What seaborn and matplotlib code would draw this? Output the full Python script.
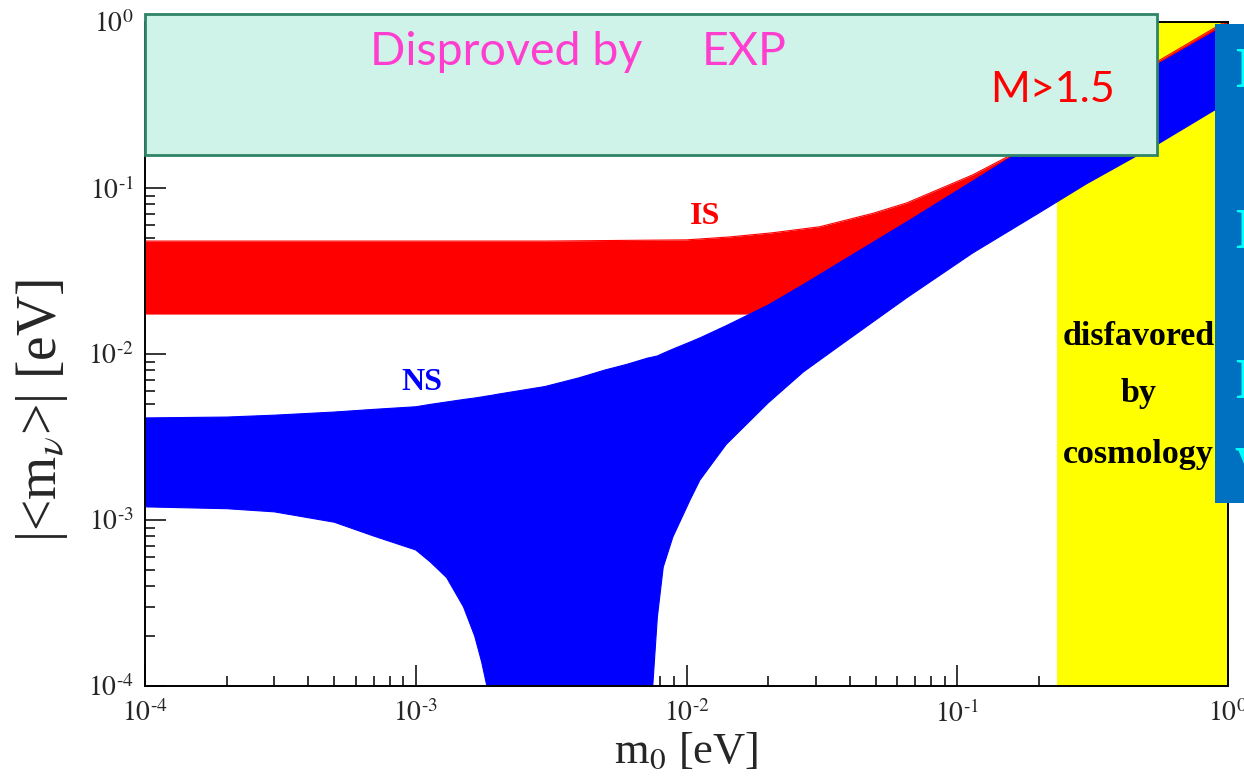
import numpy as np
import pandas as pd
import seaborn as sns
import matplotlib.pyplot as plt
from matplotlib.patches import Rectangle
from matplotlib.ticker import LogLocator, FuncFormatter, NullFormatter

# lightest neutrino mass m0 [eV] and band edges |<m_nu>| [eV]
ns_m0 = [1e-4, 2e-4, 3e-4, 5e-4, 7e-4, 1e-3, 1.13e-3, 1.3e-3, 1.5e-3, 1.65e-3, 1.75e-3, 1.83e-3, 1.9e-3,
         2e-3, 3e-3, 4e-3, 5e-3, 6e-3, 7.2e-3, 7.5e-3, 7.8e-3, 8.2e-3, 8.9e-3, 1.03e-2, 1.12e-2, 1.4e-2,
         2e-2, 2.7e-2, 3.7e-2, 6.5e-2, 0.114, 0.2, 0.3, 0.56, 1.0]
ns_upper = [0.00412, 0.00417, 0.00428, 0.00447, 0.00464, 0.00481, 0.00497, 0.00514, 0.00532, 0.00543,
            0.00551, 0.00558, 0.00563, 0.00572, 0.00637, 0.00718, 0.00801, 0.00865, 0.00946, 0.00959,
            0.00973, 0.0101, 0.0107, 0.0118, 0.0125, 0.0148, 0.0197, 0.0262, 0.0358, 0.0624, 0.110,
            0.195, 0.293, 0.566, 0.973]
ns_lower = [0.00120, 0.00117, 0.00112, 0.00097, 0.00080, 0.00066, 0.00056, 0.00045, 0.00030, 0.00020,
            0.00014, 0.00010, 1e-5, 1e-5, 1e-5, 1e-5, 1e-5, 1e-5, 1e-5, 1e-4,
            0.00026, 0.00052, 0.00079, 0.00132, 0.00174, 0.00285, 0.00507, 0.0078, 0.0113, 0.0218,
            0.0406, 0.0707, 0.106, 0.187, 0.330]

is_m0 = [1e-4, 3e-3, 1e-2, 1.44e-2, 2.07e-2, 3.1e-2, 4.9e-2, 6.5e-2, 8.6e-2, 0.114, 0.153, 0.3, 0.56, 0.9, 1.0]
is_upper = [0.0479, 0.0479, 0.0487, 0.0507, 0.0537, 0.0584, 0.0705, 0.0813, 0.0987, 0.120, 0.154,
            0.31, 0.59, 0.93, 1.03]
is_lower = [0.0174, 0.0174, 0.0174, 0.0174, 0.0174, 0.0174, 0.026, 0.030, 0.037, 0.047, 0.061,
            0.115, 0.215, 0.34, 0.38]

cosmo_limit = 0.233
tick_decades = [-4, -3, -2, -1, 0]

sns.set_theme(style="ticks")
plt.rcParams['font.family'] = ['Liberation Serif', 'DejaVu Serif']
plt.rcParams['mathtext.fontset'] = 'stix'

fig = plt.figure(figsize=(12.44, 7.77), dpi=100)
ax = fig.add_axes([0.1166, 0.1171, 0.8706, 0.8546])
ax.set_xscale('log')
ax.set_yscale('log')

ax.axvspan(cosmo_limit, 1.0, color='#FFFF00', lw=0, zorder=1)
ax.fill_between(is_m0, is_lower, is_upper, color='#FF0000', lw=0, zorder=1.5)
ax.fill_between(ns_m0, ns_lower, ns_upper, color='#0000FF', lw=0, zorder=2)
for xs, ys, c in [(is_m0, is_upper, '#FF0000'), (ns_m0, ns_upper, '#0000FF'), (ns_m0, ns_lower, '#0000FF')]:
    sns.lineplot(x=xs, y=ys, color=c, lw=0.8, sort=False, estimator=None, ax=ax, zorder=2)

ax.set_xlim(1e-4, 1)
ax.set_ylim(1e-4, 1)
ticks = [10.0 ** d for d in tick_decades]


def dec_label(v, pos):
    e = int(round(np.log10(v)))
    if e < 0:
        return r'$10^{\text{-}%d}$' % (-e)
    return r'$10^{%d}$' % e


fmt = FuncFormatter(dec_label)
for axis in (ax.xaxis, ax.yaxis):
    axis.set_major_locator(LogLocator(base=10))
    axis.set_minor_locator(LogLocator(base=10, subs=np.arange(2, 10)))
    axis.set_major_formatter(fmt)
    axis.set_minor_formatter(NullFormatter())
ax.set_xticks(ticks)
ax.set_yticks(ticks)
ax.tick_params(which='both', direction='in', top=True, right=True, color='black', width=1.1)
ax.tick_params(which='major', length=15, labelsize=20)
ax.tick_params(axis='x', which='major', pad=10)
ax.tick_params(axis='y', which='major', pad=8)
ax.tick_params(which='minor', length=7.5)
for s in ax.spines.values():
    s.set_linewidth(1.4)
    s.set_color('black')
ax.set_xlabel('')
ax.set_ylabel('')

# band labels
ax.text(0.0117, 0.0678, 'IS', color='#FF0000', fontsize=23, fontweight='bold', ha='center', va='center', zorder=3)
ax.text(1.055e-3, 0.00678, 'NS', color='#0000FF', fontsize=23, fontweight='bold', ha='center', va='center', zorder=3)
for word, yb in [('disfavored', 0.01133), ('by', 0.00514), ('cosmology', 0.002205)]:
    ax.text(0.468, yb, word, color='black', fontsize=24.5, fontweight='bold', ha='center', va='baseline', zorder=3)

# axis titles
fig.text(0.034, 0.472, r'|<m$_\nu$>| [eV]', fontsize=40, rotation=90, ha='center', va='center')
fig.text(0.5514, 0.018, r'm$_0$ [eV]', fontsize=32, ha='center', va='baseline')

# overlay boxes
fig.add_artist(Rectangle((0.1166, 0.8005), 0.8135, 0.1815, transform=fig.transFigure,
                         facecolor='#CFF3E9', edgecolor='#2F8468', lw=2, zorder=10))
fig.text(370 / 1244, 1 - 65 / 777, 'Disproved by', family='Lato', fontsize=33.5, color='#FF3ECF', va='baseline', zorder=11)
fig.text(702 / 1244, 1 - 65 / 777, 'EXP', family='Lato', fontsize=33.5, color='#FF3ECF', va='baseline', zorder=11)
fig.text(990 / 1244, 1 - 102 / 777, 'M>1.5', family='Lato', fontsize=31, color='#FF0000', va='baseline', zorder=11)

fig.add_artist(Rectangle((1215 / 1244, 1 - 503 / 777), 0.05, 479 / 777, transform=fig.transFigure,
                         facecolor='#0070C0', edgecolor='none', zorder=10))
for letter, yb in [('I', 87), ('I', 248), ('I', 398), ('V', 485)]:
    fig.text(1234 / 1244, 1 - yb / 777, letter, fontsize=40, fontweight='bold', color='#00FFFF',
             va='baseline', ha='left', zorder=11)

fig.savefig('out.png', dpi=100)
